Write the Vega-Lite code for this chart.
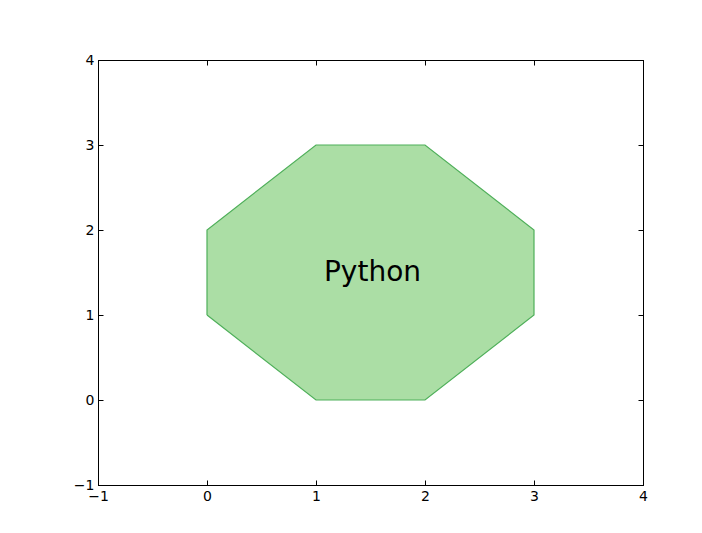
{
  "$schema": "https://vega.github.io/schema/vega-lite/v6.json",
  "width": 545,
  "height": 425,
  "autosize": {"type": "none"},
  "padding": {"left": 98, "top": 60, "right": 59, "bottom": 48},
  "background": "white",
  "config": {
    "view": {"stroke": "black", "strokeWidth": 1},
    "axis": {
      "domainColor": "black",
      "tickColor": "black",
      "tickSize": -5,
      "labelFont": "DejaVu Sans",
      "labelFontSize": 14,
      "labelColor": "black",
      "grid": false,
      "title": null
    }
  },
  "datasets": {
    "band": [
      {"x": 0, "lo": 1, "hi": 2},
      {"x": 1, "lo": 0, "hi": 3},
      {"x": 2, "lo": 0, "hi": 3},
      {"x": 3, "lo": 1, "hi": 2}
    ],
    "outline": [
      {"i": 0, "x": 0, "y": 1},
      {"i": 1, "x": 0, "y": 2},
      {"i": 2, "x": 1, "y": 3},
      {"i": 3, "x": 2, "y": 3},
      {"i": 4, "x": 3, "y": 2},
      {"i": 5, "x": 3, "y": 1},
      {"i": 6, "x": 2, "y": 0},
      {"i": 7, "x": 1, "y": 0},
      {"i": 8, "x": 0, "y": 1}
    ],
    "label": [{"x": 1.5, "y": 1.5, "t": "Python"}]
  },
  "layer": [
    {
      "data": {"name": "band"},
      "mark": {"type": "area", "color": "#abdea5", "opacity": 1},
      "encoding": {
        "x": {"field": "x", "type": "quantitative", "scale": {"domain": [-1, 4], "nice": false, "zero": false},
              "axis": {"orient": "bottom", "values": [-1, 0, 1, 2, 3, 4], "labelExpr": "replace(datum.label, '-', '−')", "labelPadding": 9, "labelFlush": false}},
        "y": {"field": "lo", "type": "quantitative", "scale": {"domain": [-1, 4], "nice": false, "zero": false},
              "axis": {"orient": "left", "values": [-1, 0, 1, 2, 3, 4], "labelExpr": "replace(datum.label, '-', '−')", "labelPadding": 9, "labelFlush": false}},
        "y2": {"field": "hi"}
      }
    },
    {
      "data": {"name": "outline"},
      "mark": {"type": "line", "color": "#4faf5a", "strokeWidth": 1.2},
      "encoding": {
        "x": {"field": "x", "type": "quantitative", "axis": null},
        "y": {"field": "y", "type": "quantitative", "axis": null},
        "order": {"field": "i", "type": "quantitative"}
      }
    },
    {
      "data": {"name": "label"},
      "mark": {"type": "text", "font": "DejaVu Sans", "fontSize": 28, "color": "black", "align": "center", "baseline": "middle", "dx": 2},
      "encoding": {
        "x": {"field": "x", "type": "quantitative", "axis": {"orient": "top", "values": [-1, 0, 1, 2, 3, 4], "labels": false}},
        "y": {"field": "y", "type": "quantitative", "axis": {"orient": "right", "values": [-1, 0, 1, 2, 3, 4], "labels": false}},
        "text": {"field": "t"}
      }
    }
  ],
  "resolve": {"axis": {"x": "independent", "y": "independent"}}
}
